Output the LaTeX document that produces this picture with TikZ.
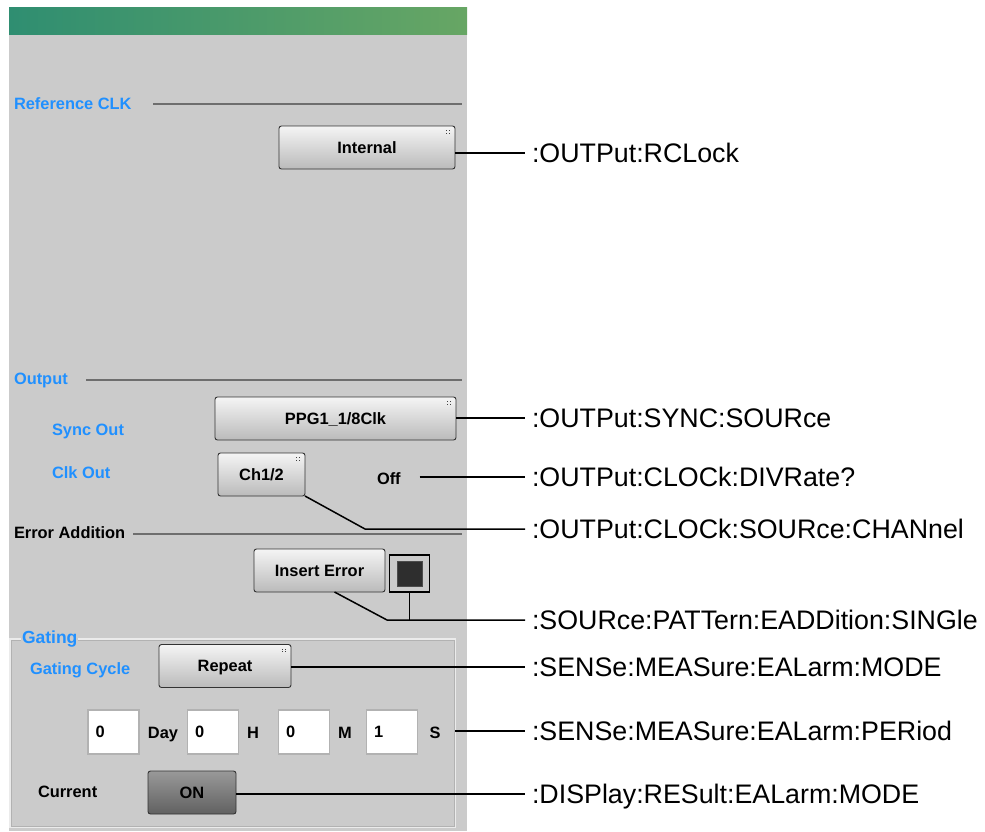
\documentclass[tikz,border=0pt]{standalone}
\usepackage{fontspec}
\setmainfont{Liberation Sans}
\definecolor{panelgray}{HTML}{CBCBCB}
\definecolor{labelblue}{HTML}{2090FF}
\definecolor{rulegray}{HTML}{6E6E6E}
\definecolor{barleft}{HTML}{2F8E71}
\definecolor{barright}{HTML}{67A664}
\newcommand{\uitext}{\fontsize{16.4}{19}\selectfont\bfseries}
\newcommand{\cmdtext}{\fontsize{26.8}{31}\selectfont}

\begin{document}
\begin{tikzpicture}[x=1pt, y=-1pt]
        \tikzstyle{every node} = [inner sep=0pt, outer sep=0pt, font=\uitext, text height=11.8pt, text depth=0pt]
        \tikzstyle{button} = [draw=black!80, line width=0.9pt, rounded corners=2.5pt, top color=black!4, bottom color=black!27, minimum height=43]
        \tikzstyle{darkbutton} = [button, top color=black!40, bottom color=black!62]
        \tikzstyle{field} = [draw=black!30, line width=1.4pt, fill=white, minimum height=44, inner xsep=7.5pt, text width=36pt, align=left]
        \tikzstyle{caption} = [anchor=west, text=labelblue]
        \tikzstyle{plain} = [anchor=west]
        \tikzstyle{cmd} = [anchor=west, font=\cmdtext, inner xsep=7pt, text height=19.2pt, text depth=0pt]
        \tikzstyle{rule} = [rulegray, line width=2pt]
        \tikzstyle{wire} = [black, line width=1.5pt]
        \useasboundingbox (0,0) rectangle (985,831);
        % panel
        \fill[panelgray] (9,34) rectangle (467,831);
        \shade[left color=barleft, right color=barright] (9,7) rectangle (467,34);
        % section headings
        \node[caption] (refclk) at (14,104) {Reference CLK};
        \node[caption] (output) at (14,379) {Output};
        \node[plain] (erradd) at (14,533) {Error Addition};
        \draw[rule] (153,104) -- (462,104);
        \draw[rule] (86,380) -- (462,380);
        \draw[rule] (133,534) -- (462,534);
        \draw[white!92!black, line width=1.5pt] (10,639) rectangle (455,827);
        \draw[black!30, line width=0.6pt] (11,640) rectangle (454,826);
        \node[caption, fill=panelgray, inner xsep=1pt, text height=13pt, font=\fontsize{17.5}{20}\selectfont\bfseries] (gating) at (21,637) {Gating};
        % controls
        \node[button, minimum width=176] (internal) at (367,147.5) {Internal};
        \node[caption] (syncout) at (52,430) {Sync Out};
        \node[button, minimum width=241] (ppg) at (335.5,418.5) {PPG1\_1/8Clk};
        \node[caption] (clkout) at (52,473) {Clk Out};
        \node[button, minimum width=87] (ch) at (261.5,474.5) {Ch1/2};
        \node[plain] (off) at (377,479) {Off};
        \node[button, minimum width=131] (insert) at (319.5,570.5) {Insert Error};
        \node[draw=black, line width=1.8pt, fill=panelgray, minimum width=40, minimum height=37] (errled) at (409.5,573.5) {};
        \node[draw=black!70, fill=black!82, minimum size=25] (errledin) at (errled.center) {};
        \node[caption] (gcycle) at (30,669) {Gating Cycle};
        \node[button, minimum width=132] (repeat) at (225,666) {Repeat};
        \foreach \n/\x/\v in {fday/113.5/0, fh/213/0, fm/304/0, fs/392/1}
            \node[field] (\n) at (\x,732) {\v};
        \node (uday) at (163,733) {Day};
        \node (uh) at (253,733) {H};
        \node (um) at (345,733) {M};
        \node (us) at (435,733) {S};
        \node[plain] (current) at (38,792) {Current};
        \node[darkbutton, minimum width=88] (on) at (192,792.5) {ON};
        \foreach \b in {internal, ppg, ch, repeat}
            \foreach \dx/\dy in {0/0, 2.5/0, 0/2.5, 2.5/2.5}
                \fill[black!75] ([xshift=-9pt+\dx pt, yshift=-4pt-\dy pt]\b.north east) rectangle +(1.3,1.3);
        % commands
        \node[cmd] (rclock) at (525,153) {:OUTPut:RCLock};
        \node[cmd] (syncsrc) at (525,418) {:OUTPut:SYNC:SOURce};
        \node[cmd] (divrate) at (525,477) {:OUTPut:CLOCk:DIVRate?};
        \node[cmd] (clksrc) at (525,529) {:OUTPut:CLOCk:SOURce:CHANnel};
        \node[cmd] (single) at (525,620) {:SOURce:PATTern:EADDition:SINGle};
        \node[cmd] (almode) at (525,667) {:SENSe:MEASure:EALarm:MODE};
        \node[cmd] (period) at (525,731) {:SENSe:MEASure:EALarm:PERiod};
        \node[cmd] (resmode) at (525,794) {:DISPlay:RESult:EALarm:MODE};
        \coordinate (chbend) at (365,529);
        \coordinate (errbend) at (387,620);
        \foreach \from/\to in {internal/rclock, ppg/syncsrc, repeat/almode, on/resmode}
            \draw[wire] (\to.west -| \from.east) -- (\to.west);
        \draw[wire] ([xshift=19pt]divrate.west -| off.east) -- (divrate.west);
        \draw[wire] ([xshift=15pt]period.west -| us.east) -- (period.west);
        \draw[wire] (ch.south east) -- (chbend) -- (clksrc.west);
        \draw[wire] ([xshift=15pt]insert.south) -- (errbend) -- (single.west);
        \draw[wire] (errled.south) -- (errled.south |- single.west);
    \end{tikzpicture}
\end{document}
